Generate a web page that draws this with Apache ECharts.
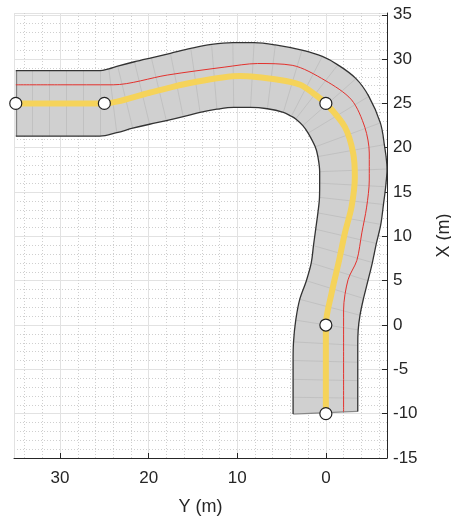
<!DOCTYPE html>
<html lang="en">
<head>
<meta charset="UTF-8">
<title>Road plot</title>
<script src="https://cdn.jsdelivr.net/npm/echarts@6/dist/echarts.min.js"></script>
<style>
    html, body { margin: 0; padding: 0; background: #fff; }
    #main { width: 451px; height: 518px; }
</style>
</head>
<body>
<div id="main"></div>
<script type="text/javascript">
// all points are [Y (m), X (m)] : Y runs along the horizontal axis, X up the vertical one

// outer edge of the road, one point per cross line
var edgeA = [
    [35, 28.7], [33.1, 28.7], [31.2, 28.7], [29.3, 28.7], [27.4, 28.7], [25.5, 28.7],
    [24.5, 28.9], [23.5, 29.2], [21.6, 29.7], [19.7, 30.15], [17.55, 30.65], [15.25, 31.2],
    [12.9, 31.65], [10.5, 31.85], [8.1, 31.85], [5.7, 31.6], [2.7, 31.0], [0.4, 30.3],
    [-1.35, 29.35], [-3.4, 27.8], [-4.85, 25.8], [-6.15, 22.8], [-6.6, 20.35], [-6.9, 17.6],
    [-6.75, 15.6], [-6.5, 13.6], [-6.2, 11.35], [-5.7, 9.2], [-5.25, 7.05], [-4.75, 5.0],
    [-4.25, 3.0], [-3.85, 1.1], [-3.65, -0.55], [-3.6, -2.3], [-3.6, -4.2], [-3.6, -6.27],
    [-3.6, -8.25], [-3.6, -9.75]
];

// inner edge of the road, same cross lines
var edgeB = [
    [35, 21.3], [33.1, 21.3], [31.2, 21.3], [29.3, 21.3], [27.4, 21.3], [25.5, 21.3],
    [23.6, 21.7], [21.8, 22.2], [19.9, 22.65], [18.0, 23.05], [16.1, 23.5], [14.2, 24.0],
    [12.3, 24.35], [10.4, 24.55], [8.5, 24.55], [6.6, 24.4], [4.8, 24.0], [3.9, 23.55],
    [3.4, 23.25], [2.6, 22.5], [2.0, 21.65], [1.2, 20.1], [0.9, 19.0], [0.7, 17.3],
    [0.7, 16.0], [0.72, 14.4], [0.9, 12.65], [1.15, 10.8], [1.4, 8.95], [1.65, 7.0],
    [2.2, 5.0], [2.95, 2.9], [3.4, 0.55], [3.65, -1.9], [3.7, -4.0], [3.7, -6.13],
    [3.7, -8.15], [3.7, -10.05]
];

// red lane line
var laneLine = [
    [35, 27.1], [30, 27.1], [24, 27.1], [17.9, 28.2], [11.4, 29.1], [7.7, 29.5], [3.8, 29.3],
    [0.1, 27.6], [-2.9, 25.4], [-4.4, 22.3], [-4.9, 19.4], [-4.9, 16.35], [-4.6, 13.3],
    [-4.06, 10.4], [-3.5, 7.3], [-2.5, 5.1], [-2.0, 1.7], [-2.0, -2.0], [-2.0, -9.8]
];

// yellow path
var pathLine = [
    [35, 25], [30, 25], [25, 25], [19.9, 26.2], [15.35, 27.3], [9.7, 28.1], [5.2, 27.65],
    [2.9, 27.1], [1.5, 26.2], [0, 25], [-2.14, 22.35], [-3.08, 19.4], [-3.27, 16.7],
    [-2.9, 13.35], [-2.14, 10.35], [-1.5, 7.33], [-0.64, 3.58], [0, 0], [0, -5], [0, -10]
];

// white waypoints
var waypoints = [[35, 25], [25, 25], [0, 25], [0, 0], [0, -10]];

var yRange = [-6.9, 35.2];
var xRange = [-15, 35.2];

var chart = echarts.init(document.getElementById('main'));

var textColor = '#262626';
var gridColor = '#e2e2e2';
var minorStyle = { color: '#cfcfcf', width: 1, type: [1, 2] };

var crossLines = edgeA.map(function (a, i) {
    var cap = (i === 0 || i === edgeA.length - 1);
    return {
        coords: [a, edgeB[i]],
        lineStyle: cap ? { color: '#333', width: 1.3 } : { color: '#a9a9a9', width: 0.8 }
    };
});

var option = {
    animation: false,
    backgroundColor: '#fff',
    grid: { left: 14, right: 64, top: 13, bottom: 60, outerBoundsMode: 'none', containLabel: false },
    xAxis: {
        type: 'value',
        inverse: true,
        min: yRange[0],
        max: yRange[1],
        splitNumber: 4,
        name: 'Y (m)',
        nameLocation: 'middle',
        nameGap: 40,
        nameTextStyle: { color: textColor, fontSize: 18, fontFamily: 'Liberation Sans' },
        axisLine: { show: true, onZero: false, lineStyle: { color: textColor, width: 1 } },
        axisTick: { show: true, inside: true, length: 5, lineStyle: { color: textColor } },
        axisLabel: {
            showMinLabel: false, showMaxLabel: false,
            color: textColor, fontSize: 17, fontFamily: 'Liberation Sans', margin: 12
        },
        splitLine: { show: true, lineStyle: { color: gridColor, width: 1 } },
        minorTick: { show: false, splitNumber: 5 },
        minorSplitLine: { show: true, lineStyle: minorStyle }
    },
    yAxis: {
        type: 'value',
        position: 'right',
        min: xRange[0],
        max: xRange[1],
        splitNumber: 10,
        name: 'X (m)',
        nameLocation: 'middle',
        nameRotate: 90,
        nameGap: 48,
        nameTextStyle: { color: textColor, fontSize: 18, fontFamily: 'Liberation Sans' },
        axisLine: { show: true, onZero: false, lineStyle: { color: textColor, width: 1 } },
        axisTick: { show: true, inside: true, length: 5, lineStyle: { color: textColor } },
        axisLabel: {
            showMinLabel: true, showMaxLabel: false,
            color: textColor, fontSize: 17, fontFamily: 'Liberation Sans', margin: 6
        },
        splitLine: { show: true, lineStyle: { color: gridColor, width: 1 } },
        minorTick: { show: false, splitNumber: 5 },
        minorSplitLine: { show: true, lineStyle: minorStyle }
    },
    series: [
        {
            // road surface
            type: 'custom',
            data: [[0, 0]],
            z: 1,
            silent: true,
            renderItem: function (params, api) {
                var pts = edgeA.map(function (p) { return api.coord(p); })
                    .concat(edgeB.slice().reverse().map(function (p) { return api.coord(p); }));
                return { type: 'polygon', shape: { points: pts }, style: { fill: '#d0d0d0' } };
            }
        },
        {
            type: 'lines',
            coordinateSystem: 'cartesian2d',
            z: 2,
            silent: true,
            data: crossLines
        },
        {
            type: 'line', data: edgeA, z: 3, smooth: 0.35, showSymbol: false, silent: true,
            lineStyle: { color: '#333', width: 1.3 }
        },
        {
            type: 'line', data: edgeB, z: 3, smooth: 0.35, showSymbol: false, silent: true,
            lineStyle: { color: '#333', width: 1.3 }
        },
        {
            type: 'line', data: laneLine, z: 4, smooth: 0.3, showSymbol: false, silent: true,
            lineStyle: { color: '#e3312d', width: 1 }
        },
        {
            type: 'line', data: pathLine, z: 5, smooth: 0.3, showSymbol: false, silent: true,
            lineStyle: { color: '#f5d35a', width: 6 }
        },
        {
            type: 'scatter', data: waypoints, z: 6, symbolSize: 12, silent: true,
            itemStyle: { color: '#ffffff', borderColor: '#222', borderWidth: 1.2, opacity: 1 }
        }
    ]
};

chart.setOption(option);
</script>
</body>
</html>
